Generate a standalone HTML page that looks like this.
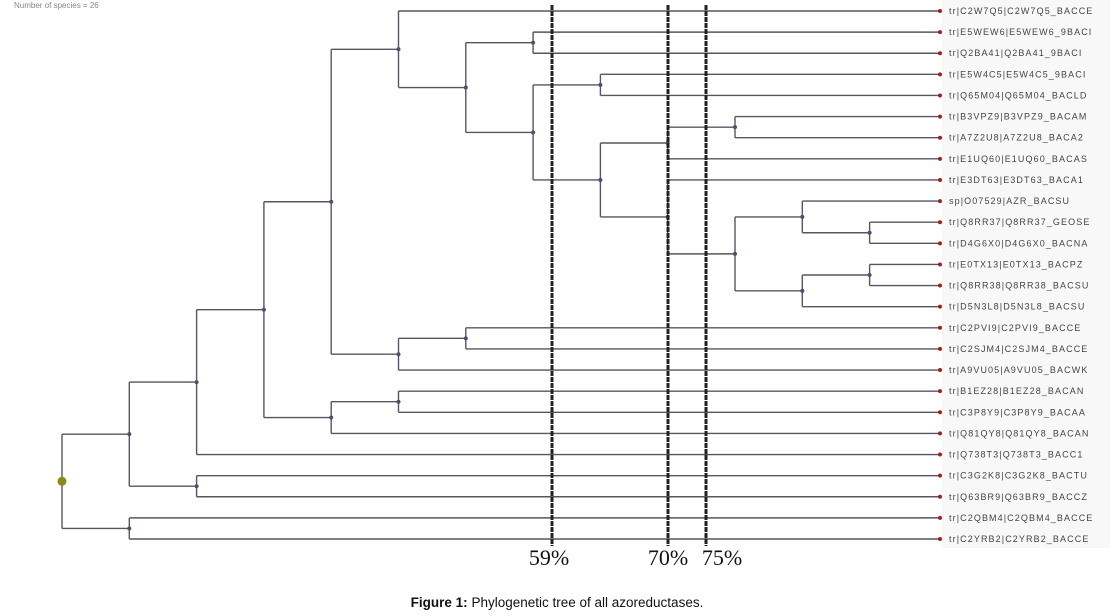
<!DOCTYPE html>
<html><head><meta charset="utf-8"><style>
html,body{margin:0;padding:0;background:#fff;}
svg{display:block;font-family:"Liberation Sans",sans-serif;}
</style></head><body>
<svg id="chart" width="1114" height="616" viewBox="0 0 1114 616" xmlns="http://www.w3.org/2000/svg">
<rect x="0" y="0" width="1114" height="616" fill="#fff"/>
<rect x="942" y="0" width="168" height="548" fill="#f8f8f8"/>
<text x="14" y="8" font-size="8" fill="#888">Number of species = 26</text>
<g id="tree"></g>
<g id="cuts"></g>
<text x="557" y="607" text-anchor="middle" font-size="13.5" fill="#111"><tspan font-weight="bold">Figure 1:</tspan> Phylogenetic tree of all azoreductases.</text>
</svg>
<script>
const leafNames = ["tr|C2W7Q5|C2W7Q5_BACCE","tr|E5WEW6|E5WEW6_9BACI","tr|Q2BA41|Q2BA41_9BACI","tr|E5W4C5|E5W4C5_9BACI","tr|Q65M04|Q65M04_BACLD","tr|B3VPZ9|B3VPZ9_BACAM","tr|A7Z2U8|A7Z2U8_BACA2","tr|E1UQ60|E1UQ60_BACAS","tr|E3DT63|E3DT63_BACA1","sp|O07529|AZR_BACSU","tr|Q8RR37|Q8RR37_GEOSE","tr|D4G6X0|D4G6X0_BACNA","tr|E0TX13|E0TX13_BACPZ","tr|Q8RR38|Q8RR38_BACSU","tr|D5N3L8|D5N3L8_BACSU","tr|C2PVI9|C2PVI9_BACCE","tr|C2SJM4|C2SJM4_BACCE","tr|A9VU05|A9VU05_BACWK","tr|B1EZ28|B1EZ28_BACAN","tr|C3P8Y9|C3P8Y9_BACAA","tr|Q81QY8|Q81QY8_BACAN","tr|Q738T3|Q738T3_BACC1","tr|C3G2K8|C3G2K8_BACTU","tr|Q63BR9|Q63BR9_BACCZ","tr|C2QBM4|C2QBM4_BACCE","tr|C2YRB2|C2YRB2_BACCE"];
const N17 = [[9,[10,11]],[[12,13],14]];
const N16 = [[[5,6],7],[8,N17]];
const N14 = [[3,4],N16];
const N12 = [[1,2],N14];
const N9 = [0,N12];
const N10 = [[15,16],17];
const N6 = [N9,N10];
const N7 = [[18,19],20];
const N5 = [N6,N7];
const N3 = [N5,21];
const N1 = [N3,[22,23]];
const treeRoot = [N1,[24,25]];
const cutoffs = [59,70,75];
const cutoffX = [552,668,706];

const NS="http://www.w3.org/2000/svg";
const g=document.getElementById('tree');
const cg=document.getElementById('cuts');
const yLeaf=i=>11+i*21.12;
const xDepth=d=>62+d*67.3;
const tipX=940;
const col="#55565f";
function mk(t,a,p){const e=document.createElementNS(NS,t);for(const k in a)e.setAttribute(k,a[k]);(p||g).appendChild(e);return e;}
function draw(node,d){
  if(typeof node==='number'){return yLeaf(node);}
  const ys=node.map(c=>draw(c,d+1));
  const x=xDepth(d);
  node.forEach((c,i)=>{
    const x2=typeof c==='number'?tipX:xDepth(d+1);
    const h=mk('line',{x1:x,y1:ys[i],x2:x2,y2:ys[i],stroke:col,'stroke-width':1.4});
    
    
  });
  const v=mk('line',{x1:x,y1:ys[0],x2:x,y2:ys[ys.length-1],stroke:col,'stroke-width':1.4});
  
  
  const y=(ys[0]+ys[ys.length-1])/2;
  const dot=mk('circle',{cx:x,cy:y,r:d===0?4.5:2,fill:d===0?'#8a8a1a':'#4b4d78'});
  
  
  return y;
}
draw(treeRoot,0);
leafNames.forEach((n,i)=>{
  const y=yLeaf(i);
  const c=mk('circle',{cx:tipX,cy:y,r:2,fill:'#a02020'});
  
  
  const t=mk('text',{x:tipX+9,y:y+3,'font-size':9,'letter-spacing':1.1,fill:'#444'});
  t.textContent=n;
  
  
});
cutoffs.forEach((p,i)=>{
  const x=cutoffX[i];
  const l=mk('line',{x1:x,y1:5,x2:x,y2:546,stroke:'#222','stroke-width':3,'stroke-dasharray':'5,1'},cg);
  
  
});
[[549,'59%'],[668,'70%'],[722,'75%']].forEach(([x,s])=>{
  const t=mk('text',{x:x,y:565,'text-anchor':'middle','font-size':22,'font-family':'"Liberation Serif",serif',fill:'#111'},cg);
  t.textContent=s;
  
  
});
</script>
</body></html>
